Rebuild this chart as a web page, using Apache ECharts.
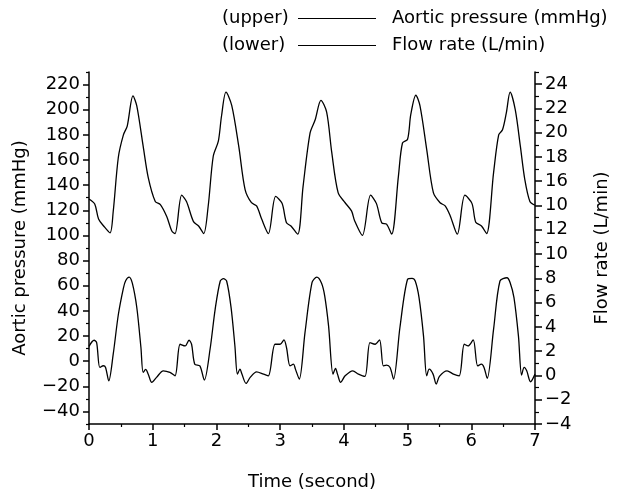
<!DOCTYPE html>
<html><head><meta charset="utf-8">
<script src="https://cdn.jsdelivr.net/npm/echarts@6/dist/echarts.min.js"></script>
<style>html,body{margin:0;padding:0;background:#fff}#c{width:621px;height:496px}</style>
</head><body><div id="c"></div>
<script>
// Aortic pressure (upper curve, left axis, mmHg)
const pressureTimes = [0, 0.09, 0.15, 0.23, 0.33, 0.38, 0.46, 0.54, 0.6, 0.69, 0.75, 0.85, 0.93, 1.04, 1.12, 1.22, 1.3, 1.35, 1.455, 1.53, 1.64, 1.72, 1.8, 1.87, 1.95, 2.03, 2.08, 2.15, 2.24, 2.35, 2.45, 2.55, 2.63, 2.71, 2.815, 2.93, 3.03, 3.1, 3.17, 3.275, 3.36, 3.47, 3.55, 3.64, 3.73, 3.81, 3.91, 4.02, 4.12, 4.17, 4.29, 4.42, 4.51, 4.595, 4.67, 4.75, 4.856, 4.92, 5.0, 5.05, 5.13, 5.195, 5.3, 5.405, 5.51, 5.59, 5.67, 5.78, 5.9, 6.01, 6.07, 6.16, 6.24, 6.35, 6.43, 6.49, 6.55, 6.61, 6.69, 6.77, 6.84, 6.92, 7.0];
const pressureValues = [129, 125, 113, 107.5, 102, 119, 162, 180, 187, 211, 203, 171, 146, 127, 124.5, 115, 103.5, 101.5, 132, 127, 111, 107.5, 101.5, 123, 163, 175, 195, 214, 203.5, 171, 136.5, 126, 123.5, 113, 101.5, 131, 125.5, 110, 107.5, 101, 139, 181.5, 192, 207.5, 198, 166, 134, 126, 119.5, 111.5, 100, 132, 125.5, 110, 109, 101, 147, 173.5, 176.5, 196, 211.5, 203, 168.5, 134, 126, 123.5, 115.5, 101, 132, 125.5, 110.5, 107.5, 101.5, 150, 180, 184, 197.5, 214, 200, 171, 144.5, 127, 124];

// Flow rate (lower curve, right axis, L/min)
const flowTimes = [0, 0.08, 0.12, 0.17, 0.225, 0.26, 0.31, 0.38, 0.46, 0.54, 0.575, 0.63, 0.68, 0.75, 0.815, 0.85, 0.89, 0.93, 0.985, 1.06, 1.166, 1.27, 1.35, 1.43, 1.51, 1.57, 1.61, 1.66, 1.74, 1.81, 1.9, 1.98, 2.06, 2.11, 2.16, 2.23, 2.29, 2.33, 2.37, 2.4, 2.465, 2.53, 2.63, 2.74, 2.815, 2.92, 3.0, 3.06, 3.1, 3.155, 3.21, 3.24, 3.3, 3.39, 3.5, 3.575, 3.65, 3.7, 3.76, 3.83, 3.87, 3.9, 3.95, 4.02, 4.14, 4.23, 4.33, 4.41, 4.49, 4.56, 4.62, 4.67, 4.725, 4.78, 4.88, 5.0, 5.07, 5.12, 5.18, 5.25, 5.3, 5.34, 5.4, 5.45, 5.5, 5.62, 5.72, 5.81, 5.89, 5.95, 6.03, 6.1, 6.16, 6.2, 6.25, 6.35, 6.45, 6.56, 6.61, 6.67, 6.74, 6.79, 6.83, 6.87, 6.93, 7.0];
const flowValues = [2.4, 2.9, 2.7, 0.66, 0.8, 0.66, -0.45, 1.75, 5.0, 7.2, 7.8, 8.1, 7.6, 5.6, 2.3, 0.25, 0.5, 0.1, -0.57, -0.16, 0.38, 0.25, -0.03, 2.57, 2.43, 2.9, 2.57, 0.93, 0.79, -0.38, 2.16, 5.45, 7.78, 7.97, 7.78, 5.59, 2.43, 0.11, 0.52, 0.11, -0.66, -0.16, 0.3, 0.11, -0.03, 2.57, 2.57, 2.93, 2.3, 0.79, 0.93, 0.52, -0.3, 3.53, 7.64, 8.1, 7.6, 6.54, 4.08, 0.11, 0.58, 0.11, -0.57, -0.03, 0.38, 0.11, -0.08, 2.71, 2.57, 2.93, 0.79, 0.85, 0.66, -0.3, 3.95, 7.92, 8.0, 7.78, 6.41, 3.26, -0.03, 0.52, 0.11, -0.71, -0.08, 0.38, 0.11, -0.03, 2.57, 2.43, 2.93, 0.79, 0.93, 0.66, -0.24, 3.81, 7.78, 8.05, 7.64, 6.41, 3.26, 0.03, 0.66, 0.38, -0.52, 0.11];

// Tick values and labels
const leftTickValues = [-40, -20, 0, 20, 40, 60, 80, 100, 120, 140, 160, 180, 200, 220];
const leftMinorTickValues = [-50, -30, -10, 10, 30, 50, 70, 90, 110, 130, 150, 170, 190, 210, 230];
const rightTickValues = [-4, -2, 0, 2, 4, 6, 8, 10, 12, 14, 16, 18, 20, 22, 24];
const rightTickLabels = ['\u22124', '\u22122', '0', '2', '4', '6', '8', '10', '12', '10', '16', '18', '20', '22', '24'];
const rightMinorTickValues = [-3, -1, 1, 3, 5, 7, 9, 11, 13, 15, 17, 19, 21, 23, 25];

const FONT = 'DejaVu Sans';
const txt = { color: '#000', fontSize: 18, fontFamily: FONT };
const blackLine = { color: '#000', width: 1.5 };

const chart = echarts.init(document.getElementById('c'), null, { renderer: 'canvas' });

function fmtNeg(v) { return v < 0 ? '\u2212' + Math.abs(v) : String(v); }

chart.setOption({
  animation: false,
  backgroundColor: '#fff',
  grid: { left: 89, right: 86, top: 72, bottom: 71, containLabel: false },
  xAxis: {
    type: 'value', min: 0, max: 7, interval: 1,
    axisLine: { onZero: false, lineStyle: blackLine },
    axisTick: { length: 6, lineStyle: blackLine },
    minorTick: { show: true, splitNumber: 2, length: 3, lineStyle: { color: '#000', width: 1.2 } },
    splitLine: { show: false },
    axisLabel: Object.assign({ margin: 8 }, txt),
    name: 'Time (second)', nameLocation: 'middle', nameGap: 49,
    nameTextStyle: txt
  },
  yAxis: [
    {
      type: 'value', position: 'left', min: -50, max: 230,
      axisLine: { show: true, onZero: false, lineStyle: blackLine },
      axisTick: { show: true, length: 6, customValues: leftTickValues, lineStyle: blackLine },
      axisLabel: Object.assign({ margin: 9, customValues: leftTickValues, formatter: fmtNeg }, txt),
      splitLine: { show: false },
      name: 'Aortic pressure (mmHg)', nameLocation: 'middle', nameGap: 60, nameRotate: 90,
      nameTextStyle: txt
    },
    {
      type: 'value', position: 'right', min: -4, max: 25,
      axisLine: { show: true, onZero: false, lineStyle: blackLine },
      axisTick: { show: true, length: 7, customValues: rightTickValues, lineStyle: blackLine },
      axisLabel: Object.assign({
        margin: 10, customValues: rightTickValues,
        formatter: function (v) {
          const i = rightTickValues.indexOf(Math.round(v));
          return i >= 0 ? rightTickLabels[i] : '';
        }
      }, txt),
      splitLine: { show: false },
      name: 'Flow rate (L/min)', nameLocation: 'middle', nameGap: 58, nameRotate: 90,
      nameTextStyle: txt
    },
    {
      type: 'value', position: 'left', min: -50, max: 230,
      axisLine: { show: false, onZero: false },
      axisTick: { show: true, length: 3, customValues: leftMinorTickValues, lineStyle: { color: '#000', width: 1.2 } },
      axisLabel: { show: false },
      splitLine: { show: false }
    },
    {
      type: 'value', position: 'right', min: -4, max: 25,
      axisLine: { show: false, onZero: false },
      axisTick: { show: true, length: 4, customValues: rightMinorTickValues, lineStyle: { color: '#000', width: 1.2 } },
      axisLabel: { show: false },
      splitLine: { show: false }
    }
  ],
  graphic: [
    { type: 'text', style: { x: 222, y: 18, text: '(upper)', fill: '#000', font: '18px "DejaVu Sans"', verticalAlign: 'middle' } },
    { type: 'line', shape: { x1: 298, y1: 18.5, x2: 376, y2: 18.5 }, style: { stroke: '#000', lineWidth: 1 } },
    { type: 'text', style: { x: 392, y: 18, text: 'Aortic pressure (mmHg)', fill: '#000', font: '18px "DejaVu Sans"', verticalAlign: 'middle' } },
    { type: 'text', style: { x: 222, y: 45, text: '(lower)', fill: '#000', font: '18px "DejaVu Sans"', verticalAlign: 'middle' } },
    { type: 'line', shape: { x1: 298, y1: 45.5, x2: 376, y2: 45.5 }, style: { stroke: '#000', lineWidth: 1 } },
    { type: 'text', style: { x: 392, y: 45, text: 'Flow rate (L/min)', fill: '#000', font: '18px "DejaVu Sans"', verticalAlign: 'middle' } }
  ],
  series: [
    {
      name: 'Aortic pressure (mmHg)', type: 'line', yAxisIndex: 0,
      data: pressureTimes.map((t, i) => [t, pressureValues[i]]),
      showSymbol: false, symbol: 'none', smooth: 0.3,
      lineStyle: { color: '#000', width: 1.3 }
    },
    {
      name: 'Flow rate (L/min)', type: 'line', yAxisIndex: 1,
      data: flowTimes.map((t, i) => [t, flowValues[i]]),
      showSymbol: false, symbol: 'none', smooth: 0.3,
      lineStyle: { color: '#000', width: 1.3 }
    }
  ]
});
</script>
</body></html>
